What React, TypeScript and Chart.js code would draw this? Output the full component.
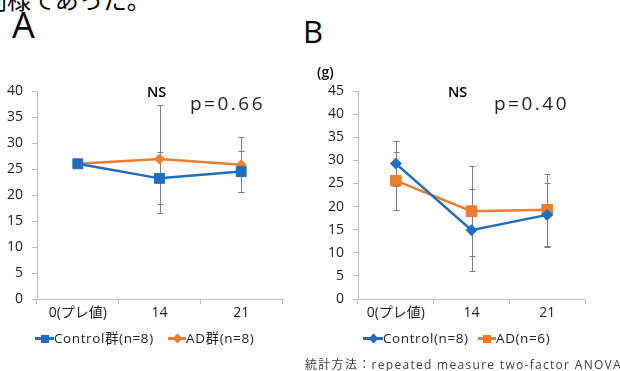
import React, { useEffect, useRef } from "react";
import { Chart, registerables } from "chart.js";

Chart.register(...registerables);

// ---- data ----
const categories = ["0(プレ値)", "14", "21"];
const controlA = [26.0, 23.2, 24.5];
const controlAErr = [0, 5.0, 4.0];
const adA = [26.0, 26.9, 25.8];
const adAErr = [0, 10.4, 5.3];
const controlB = [29.3, 14.9, 18.2];
const controlBErr = [4.8, 8.9, 6.9];
const adB = [25.6, 19.0, 19.3];
const adBErr = [6.3, 9.8, 7.8];
const yMaxA = 40;
const yMaxB = 45;
const yStep = 5;
const legendA = ["Control群(n=8)", "AD群(n=8)"];
const legendB = ["Control(n=8)", "AD(n=6)"];

const BLUE = "#1f6fc1";
const ORANGE = "#ed7d31";
const AXIS = "#bfbfbf";
const TEXT = "#1f1f1f";
const FONT = "'Open Sans', 'Noto Sans CJK JP', sans-serif";

const errorBarPlugin = {
  id: "errorBars",
  beforeDatasetsDraw(chart: any, _args: any, opts: any) {
    const { ctx } = chart;
    const y = chart.scales.y;
    const errs: number[][] = opts.errors || [];
    chart.data.datasets.forEach((ds: any, i: number) => {
      const meta = chart.getDatasetMeta(i);
      meta.data.forEach((pt: any, j: number) => {
        const e = errs[i] ? errs[i][j] : 0;
        if (!e) return;
        const v = ds.data[j] as number;
        const x = Math.round(pt.x) + 0.5;
        const yt = Math.round(y.getPixelForValue(v + e)) + 0.5;
        const yb = Math.round(y.getPixelForValue(v - e)) + 0.5;
        ctx.save();
        ctx.strokeStyle = "#808080";
        ctx.lineWidth = 1;
        ctx.beginPath();
        ctx.moveTo(x, yt);
        ctx.lineTo(x, yb);
        ctx.moveTo(x - 3, yt);
        ctx.lineTo(x + 3, yt);
        ctx.moveTo(x - 3, yb);
        ctx.lineTo(x + 3, yb);
        ctx.stroke();
        ctx.restore();
      });
    });
  },
};

type Series = {
  label: string;
  data: number[];
  err: number[];
  color: string;
  pointStyle: string;
  radius: number;
};

function ChartPanel(props: {
  left: number;
  width: number;
  height: number;
  yWidth: number;
  padRight: number;
  yMax: number;
  series: Series[];
}) {
  const ref = useRef<HTMLCanvasElement | null>(null);
  useEffect(() => {
    if (!ref.current) return;
    const chart = new Chart(ref.current, {
      type: "line",
      data: {
        labels: categories,
        datasets: props.series.map((s) => ({
          label: s.label,
          data: s.data,
          borderColor: s.color,
          backgroundColor: s.color,
          borderWidth: 2.5,
          pointStyle: s.pointStyle as any,
          pointRadius: s.radius,
          pointBorderWidth: 1,
          pointBorderColor: s.color,
          pointBackgroundColor: s.color,
          tension: 0,
          fill: false,
        })),
      },
      options: {
        responsive: false,
        animation: false,
        layout: { padding: { left: 0, right: props.padRight, top: 91, bottom: 0 } },
        plugins: {
          legend: { display: false },
          tooltip: { enabled: false },
          errorBars: { errors: props.series.map((s) => s.err) },
        } as any,
        scales: {
          x: {
            type: "category",
            offset: true,
            grid: {
              offset: true,
              drawOnChartArea: false,
              drawTicks: true,
              tickLength: 5,
              color: AXIS,
            },
            border: { display: true, color: AXIS, width: 1 },
            ticks: {
              color: TEXT,
              font: { family: FONT, size: 14 },
              padding: 1,
              maxRotation: 0,
            },
            afterFit: (s: any) => {
              s.height = 31;
            },
          },
          y: {
            min: 0,
            max: props.yMax,
            grid: {
              drawOnChartArea: false,
              drawTicks: true,
              tickLength: 5,
              color: AXIS,
            },
            border: { display: true, color: AXIS, width: 1 },
            ticks: {
              stepSize: yStep,
              color: TEXT,
              font: { family: FONT, size: 14 },
              padding: 9,
            },
            afterFit: (s: any) => {
              s.width = props.yWidth;
            },
          },
        },
      },
      plugins: [errorBarPlugin],
    });
    return () => chart.destroy();
  }, []);
  return (
    <canvas
      ref={ref}
      width={props.width}
      height={props.height}
      style={{ position: "absolute", left: props.left, top: 0, width: props.width, height: props.height }}
    />
  );
}

function LegendItem(props: { left: number; color: string; marker: "square" | "diamond"; text: string; lineW: number }) {
  const cy = 338;
  return (
    <div
      style={{
        position: "absolute",
        left: props.left,
        top: cy - 9,
        height: 18,
        display: "flex",
        alignItems: "center",
        whiteSpace: "nowrap",
      }}
    >
      <span style={{ position: "relative", width: props.lineW, height: 18, display: "inline-block" }}>
        <span
          style={{
            position: "absolute",
            left: 0,
            top: 8,
            width: props.lineW,
            height: 3,
            background: props.color,
          }}
        />
        {props.marker === "square" ? (
          <span
            style={{
              position: "absolute",
              left: props.lineW / 2 - 4,
              top: 5.5,
              width: 8,
              height: 8,
              background: props.color,
            }}
          />
        ) : (
          <span
            style={{
              position: "absolute",
              left: props.lineW / 2 - 3.5,
              top: 6,
              width: 7,
              height: 7,
              background: props.color,
              transform: "rotate(45deg)",
            }}
          />
        )}
      </span>
      <span style={{ fontFamily: FONT, fontSize: 13.5, color: TEXT, letterSpacing: 0.6, lineHeight: "18px" }}>
        {props.text}
      </span>
    </div>
  );
}

export default function App() {
  const abs = (l: number, t: number, extra: any = {}) => ({
    position: "absolute" as const,
    left: l,
    top: t,
    whiteSpace: "nowrap" as const,
    fontFamily: FONT,
    color: "#000",
    ...extra,
  });
  return (
    <div
      style={{
        position: "absolute",
        left: 0,
        top: 0,
        width: 620,
        height: 371,
        overflow: "hidden",
        background: "#fff",
      }}
    >
      <div style={abs(-17, -13, { fontSize: 24, lineHeight: "24px", fontFamily: "'Noto Sans CJK JP', sans-serif" })}>
        同様であった。
      </div>
      <div style={abs(12, 7, { fontSize: 36, lineHeight: "36px" })}>A</div>
      <div style={abs(303, 16, { fontSize: 31, lineHeight: "31px" })}>B</div>

      <ChartPanel
        left={0}
        width={300}
        height={330}
        yWidth={37}
        padRight={18}
        yMax={yMaxA}
        series={[
          { label: legendA[0], data: controlA, err: controlAErr, color: BLUE, pointStyle: "rect", radius: 7 },
          { label: legendA[1], data: adA, err: adAErr, color: ORANGE, pointStyle: "rectRot", radius: 5 },
        ]}
      />
      <ChartPanel
        left={300}
        width={320}
        height={330}
        yWidth={58}
        padRight={35}
        yMax={yMaxB}
        series={[
          { label: legendB[0], data: controlB, err: controlBErr, color: BLUE, pointStyle: "rectRot", radius: 5.5 },
          { label: legendB[1], data: adB, err: adBErr, color: ORANGE, pointStyle: "rect", radius: 7.5 },
        ]}
      />

      <div style={abs(147, 85, { fontSize: 14.5, lineHeight: "14px", fontWeight: 600 })}>NS</div>
      <div style={abs(190, 94, { fontSize: 19, lineHeight: "19px", letterSpacing: 2.5, color: "#262626" })}>p=0.66</div>
      <div style={abs(448, 85, { fontSize: 14.5, lineHeight: "14px", fontWeight: 600 })}>NS</div>
      <div style={abs(494, 94, { fontSize: 19, lineHeight: "19px", letterSpacing: 2.5, color: "#262626" })}>p=0.40</div>
      <div style={abs(317, 65, { fontSize: 14, lineHeight: "14px", fontWeight: 600 })}>(g)</div>

      <LegendItem left={35} color={BLUE} marker="square" text={legendA[0]} lineW={19} />
      <LegendItem left={168} color={ORANGE} marker="diamond" text={legendA[1]} lineW={18} />
      <LegendItem left={363} color={BLUE} marker="diamond" text={legendB[0]} lineW={20} />
      <LegendItem left={478} color={ORANGE} marker="square" text={legendB[1]} lineW={18} />

      <div style={abs(305, 358, { fontSize: 12, lineHeight: "14px", letterSpacing: 1.3, color: "#404040" })}>
        統計方法：repeated measure two-factor ANOVA
      </div>
    </div>
  );
}
